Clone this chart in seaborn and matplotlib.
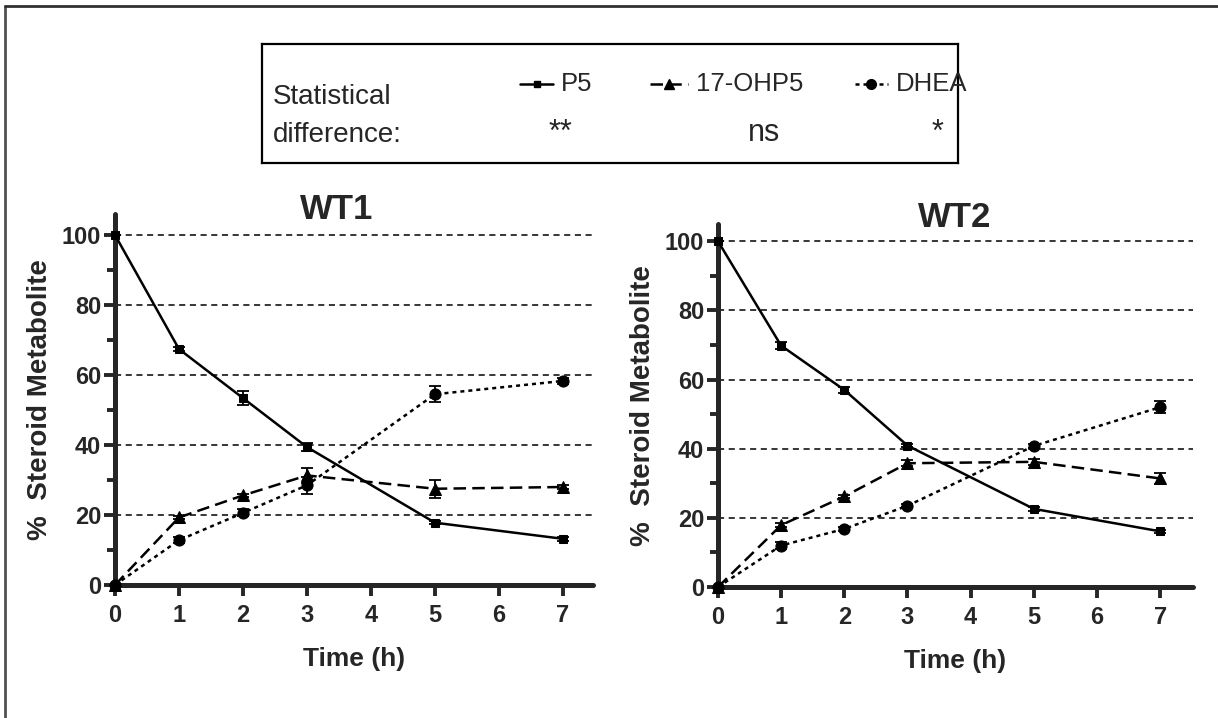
import pandas as pd
import matplotlib.pyplot as plt
import seaborn as sns
from matplotlib.lines import Line2D
from matplotlib.ticker import MultipleLocator

# datos
time_h = [0, 1, 2, 3, 5, 7]
steroids = ['P5', '17-OHP5', 'DHEA']
signif = ['**', 'ns', '*']

wt1_p5 = [100, 67.4, 53.4, 39.4, 17.8, 13.2]
wt1_p5_err = [0, 0.5, 2.0, 1.2, 0.5, 0.5]
wt1_ohp5 = [0, 19.3, 25.6, 31.3, 27.5, 28.0]
wt1_ohp5_err = [0, 0.5, 0.5, 2.2, 2.5, 0.5]
wt1_dhea = [0, 12.8, 20.6, 28.5, 54.5, 58.3]
wt1_dhea_err = [0, 0.8, 1.0, 2.5, 2.3, 0.8]

wt2_p5 = [100, 69.8, 57.0, 40.9, 22.6, 16.1]
wt2_p5_err = [0, 1.0, 0.8, 0.5, 0.5, 0.5]
wt2_ohp5 = [0, 17.9, 26.2, 35.8, 36.2, 31.4]
wt2_ohp5_err = [0, 0.5, 0.5, 0.8, 0.8, 1.6]
wt2_dhea = [0, 12.0, 16.8, 23.5, 40.8, 52.0]
wt2_dhea_err = [0, 1.0, 0.5, 0.5, 0.5, 1.8]

sns.set_style('ticks')
plt.rcParams['font.family'] = ['Liberation Sans', 'DejaVu Sans']

markers = {'P5': 's', '17-OHP5': '^', 'DHEA': 'o'}
msizes = {'P5': 5.5, '17-OHP5': 8, 'DHEA': 8}
dashes = {'P5': '', '17-OHP5': (5, 2.5), 'DHEA': (1.6, 1.6)}


def make_df(p5, ohp5, dhea, p5e, ohp5e, dheae):
    rows = []
    for name, vals, errs in zip(steroids, [p5, ohp5, dhea], [p5e, ohp5e, dheae]):
        for t, v, e in zip(time_h, vals, errs):
            rows.append({'Time': t, 'Value': v, 'Err': e, 'Steroid': name})
    return pd.DataFrame(rows)


fig = plt.figure(figsize=(12.18, 7.18), dpi=100)

# (titulo, datos, posicion del eje, ylim sup, xlim sup, posicion del titulo)
panels = [
    ('WT1', make_df(wt1_p5, wt1_ohp5, wt1_dhea, wt1_p5_err, wt1_ohp5_err, wt1_dhea_err),
     [115 / 1218, 1 - 585 / 718, 478 / 1218, 371 / 718], 106, 7.47, (0.464, 1.013)),
    ('WT2', make_df(wt2_p5, wt2_ohp5, wt2_dhea, wt2_p5_err, wt2_ohp5_err, wt2_dhea_err),
     [718 / 1218, 1 - 587 / 718, 475 / 1218, 363 / 718], 105, 7.52, (0.499, 1.019)),
]

for title, df, pos, ytop, xright, tpos in panels:
    ax = fig.add_axes(pos)
    for y in [20, 40, 60, 80, 100]:
        ax.axhline(y, color='black', lw=1.1, ls=(0, (4, 3)), zorder=0)
    for name in steroids:
        sub = df[df['Steroid'] == name]
        ax.errorbar(sub['Time'], sub['Value'], yerr=sub['Err'], fmt='none',
                    ecolor='black', elinewidth=1.3, capsize=4, capthick=1.3, zorder=2)
    sns.lineplot(data=df, x='Time', y='Value', style='Steroid', markers=markers,
                 dashes=dashes, color='black', linewidth=1.8, markersize=8,
                 markeredgecolor='black', ax=ax, legend=False, clip_on=False, zorder=3)
    for line, name in zip(ax.lines[-3:], steroids):
        line.set_markersize(msizes[name])
    ax.set_xlim(0, xright)
    ax.set_ylim(0, ytop)
    ax.set_xticks(range(0, 8))
    ax.set_yticks([0, 20, 40, 60, 80, 100])
    ax.yaxis.set_minor_locator(MultipleLocator(10))
    sns.despine(ax=ax)
    for sp in ['left', 'bottom']:
        ax.spines[sp].set_linewidth(3.6)
        ax.spines[sp].set_capstyle('round')
    ax.tick_params(axis='both', which='major', length=8, width=2.8, labelsize=17)
    ax.tick_params(axis='x', which='major', pad=6)
    ax.tick_params(axis='y', which='major', pad=2)
    ax.tick_params(axis='y', which='minor', length=6, width=2.8)
    for lab in ax.get_xticklabels() + ax.get_yticklabels():
        lab.set_fontweight('bold')
    ax.set_xlabel('Time (h)', fontsize=19, fontweight='bold', labelpad=14)
    ax.set_ylabel('%  Steroid Metabolite', fontsize=20, fontweight='bold', labelpad=6)
    ax.text(tpos[0], tpos[1], title, transform=ax.transAxes, fontsize=25,
            fontweight='bold', ha='center', va='center')

# recuadro de leyenda con la diferencia estadistica
leg = fig.add_axes([262 / 1218, 1 - 163 / 718, 696 / 1218, 119 / 718])
leg.set_xlim(262, 958)
leg.set_ylim(163, 44)
leg.set_xticks([])
leg.set_yticks([])
for sp in leg.spines.values():
    sp.set_linewidth(1.6)
    sp.set_color('black')
leg.text(273, 97, 'Statistical', fontsize=20, va='center', ha='left')
leg.text(273, 135, 'difference:', fontsize=20, va='center', ha='left')
sample_x = [(520, 553), (650, 688), (855, 888)]
label_x = [561, 696, 896]
sig_x = [560, 764, 938]
for name, (x0, x1), lx, sx, s in zip(steroids, sample_x, label_x, sig_x, signif):
    leg.add_line(Line2D([x0, x1], [84, 84], color='black', lw=1.8,
                        dashes=dashes[name] if dashes[name] else (None, None)))
    leg.plot([(x0 + x1) / 2], [84], marker=markers[name], color='black',
             markersize=msizes[name] - 1, ls='none')
    leg.text(lx, 84, name, fontsize=18.5, va='center', ha='left')
    leg.text(sx, 133, s, fontsize=22, va='center', ha='center')

# borde del recorte original
fig.add_artist(Line2D([5 / 1218, 5 / 1218], [0, 1 - 6 / 718], color='#505050', lw=2))
fig.add_artist(Line2D([5 / 1218, 1], [1 - 6 / 718, 1 - 6 / 718], color='#303030', lw=2))

fig.savefig('out.png', dpi=100)
